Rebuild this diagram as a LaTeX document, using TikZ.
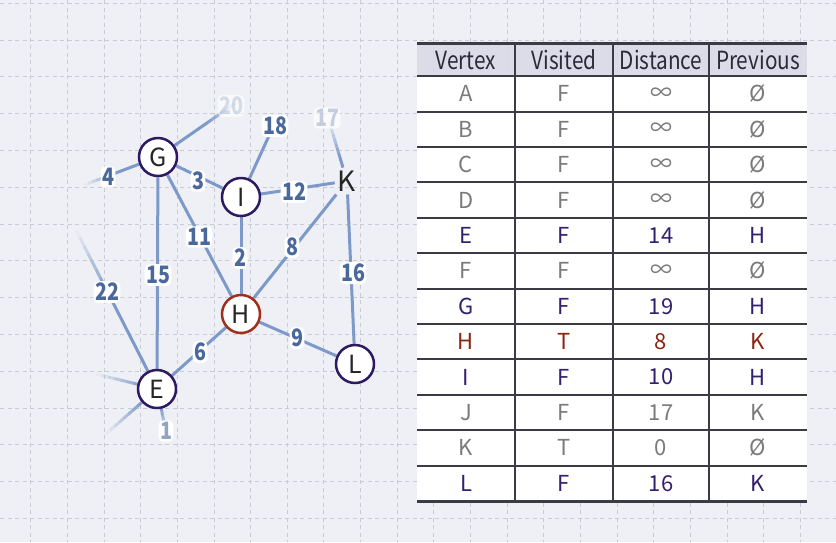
\documentclass[tikz,border=0pt]{standalone}
\usepackage{fontspec}
\usetikzlibrary{calc}
\setmainfont{Noto Sans}
\newfontfamily\tblfont{Noto Sans CJK KR}
\newfontfamily\hdrfont[FakeStretch=0.83]{Noto Sans CJK KR}
\newfontfamily\lblfont[FakeStretch=0.82]{Noto Sans CJK KR}
\newcommand\infs{∞}
\newcommand\emps{Ø}
\definecolor{bgc}{HTML}{EFF0F5}
\definecolor{gridc}{HTML}{C9CBD3}
\definecolor{edgec}{HTML}{7C99C9}
\definecolor{lblc}{HTML}{4B689B}
\definecolor{vborder}{HTML}{2E1A63}
\definecolor{hborder}{HTML}{A0301C}
\definecolor{tline}{HTML}{3B3B45}
\definecolor{hdrfill}{HTML}{D9DAE6}
\definecolor{tgray}{HTML}{7B7B7B}
\definecolor{tpurple}{HTML}{33206E}
\definecolor{tred}{HTML}{8B2512}
\definecolor{hdrtext}{HTML}{2A2A3A}
\pgfdeclarelayer{bgl}
\pgfdeclarelayer{edgel}
\pgfsetlayers{bgl,edgel,main}
\tikzset{
  gridline/.style={gridc, line width=0.9pt, dash pattern=on 4pt off 3.5pt},
  edge/.style={edgec, line width=3pt},
  vtx/.style={circle, minimum size=38pt, inner sep=0pt, draw=vborder, line width=2.5pt, fill=white, text=black!85, font=\tblfont\fontsize{25}{27}\selectfont},
  hot/.style={draw=hborder},
  letter/.style={inner sep=3pt, text=black!85, font=\tblfont\fontsize{28}{30}\selectfont},
  elab/.style={inner xsep=1.5pt, inner ysep=2pt, fill=white, rounded corners=5pt, text=lblc, font=\lblfont\bfseries\fontsize{24}{26}\selectfont},
  cell/.style={inner sep=0pt, font=\tblfont\fontsize{22}{24}\selectfont},
  hcell/.style={inner sep=0pt, text=hdrtext, font=\hdrfont\fontsize{25}{27}\selectfont},
  rowline/.style={tline, line width=2pt},
  colline/.style={tline, line width=1.5pt},
}
\newcommand\fadeline[3]{%
  \draw[edge] (#1) -- ($(#1)!#3!(#2)$);
  \foreach \k in {0,...,7}{%
    \pgfmathsetmacro\fa{#3+(1-#3)*\k/8}%
    \pgfmathsetmacro\fb{#3+(1-#3)*(\k+1)/8}%
    \pgfmathsetmacro\fo{1-(\k+0.5)/8}%
    \draw[edge, draw opacity=\fo] ($(#1)!\fa!(#2)$) -- ($(#1)!\fb!(#2)$);
  }%
}
\begin{document}
\begin{tikzpicture}[x=1pt,y=-1pt]
\useasboundingbox (0,0) rectangle (836,542);
\begin{pgfonlayer}{bgl}
\fill[bgc] (0,0) rectangle (836,542);
\foreach \i in {0,...,21} \draw[gridline] ({30.7+36.65*\i},0) -- ({30.7+36.65*\i},542);
\foreach \j in {0,...,14} \draw[gridline] (0,{3.3+36.8*\j}) -- (836,{3.3+36.8*\j});
\end{pgfonlayer}

% graph nodes
\node[vtx] (G) at (158,157) {G};
\node[vtx] (I) at (241,197) {I};
\node[letter] (K) at (347,181) {K};
\node[vtx,hot] (H) at (241,314) {H};
\node[vtx] (L) at (355,364) {L};
\node[vtx] (E) at (157,389) {E};

\coordinate (g20) at (240,100);
\coordinate (g4) at (84,185);
\coordinate (i18) at (273,127);
\coordinate (k17) at (329,121);
\coordinate (e22) at (76,230);
\coordinate (eW) at (96,374);
\coordinate (eSW) at (106,434);
\coordinate (eS) at (167,436);

\begin{pgfonlayer}{edgel}
\draw[edge] (G) -- (E);
\draw[edge] (G) -- (I);
\draw[edge] (G) -- (H);
\draw[edge] (I) -- (K);
\draw[edge] (I) -- (H);
\draw[edge] (K) -- (H);
\draw[edge] (K) -- (L);
\draw[edge] (H) -- (L);
\draw[edge] (H) -- (E);
\draw[edge] (I) -- (i18);
\fadeline{G}{g20}{0.6}
\fadeline{G}{g4}{0.55}
\fadeline{K}{k17}{0.4}
\fadeline{E}{e22}{0.6}
\fadeline{E}{eW}{0.2}
\fadeline{E}{eSW}{0.3}
\fadeline{E}{eS}{0.4}
\end{pgfonlayer}

% edge labels
\node[elab] (l15) at (158,275) {15};
\node[elab] (l3) at (198,181) {3};
\node[elab] (l11) at (199,237) {11};
\node[elab] (l4) at (108,177) {4};
\node[elab] (l12) at (294,192) {12};
\node[elab] (l18) at (275,126) {18};
\node[elab] (l2) at (240,258) {2};
\node[elab] (l8) at (292,247) {8};
\node[elab] (l16) at (353,273) {16};
\node[elab] (l9) at (297,338) {9};
\node[elab] (l6) at (200,352) {6};
\node[elab] (l22) at (107,292) {22};
\node[elab, text opacity=0.2, fill opacity=0.6] (l20) at (231,106) {20};
\node[elab, text opacity=0.3, fill opacity=0.7] (l17) at (327,118) {17};
\node[elab, text opacity=0.6] (l1) at (166,431) {1};

% table
\fill[hdrfill, opacity=0.9] (417,43) rectangle (807,76);
\fill[white] (417,76) rectangle (807,500.8);
\node[hcell] (h1) at (466,60) {Vertex};
\node[hcell] (h2) at (564,60) {Visited};
\node[hcell] (h3) at (661,60) {Distance};
\node[hcell] (h4) at (758,60) {Previous};
\foreach \v/\vis/\d/\p/\c [count=\r from 0] in {
  A/F/\infs/\emps/tgray, B/F/\infs/\emps/tgray, C/F/\infs/\emps/tgray,
  D/F/\infs/\emps/tgray, E/F/14/H/tpurple, F/F/\infs/\emps/tgray,
  G/F/19/H/tpurple, H/T/8/K/tred, I/F/10/H/tpurple, J/F/17/K/tgray,
  K/T/0/\emps/tgray, L/F/16/K/tpurple}{
  \pgfmathsetmacro\yy{93.9+35.4*\r}
  \node[cell, text=\c] (cv\r) at (466,\yy) {\v};
  \node[cell, text=\c] (cs\r) at (564,\yy) {\vis};
  \node[cell, text=\c] (cd\r) at (661,\yy) {\d};
  \node[cell, text=\c] (cp\r) at (758,\yy) {\p};
}
\draw[tline, line width=3pt] (417,43) -- (807,43);
\foreach \r in {0,...,11} \draw[rowline] (417,{76.2+35.4*\r}) -- (807,{76.2+35.4*\r});
\draw[tline, line width=3pt] (417,501) -- (807,501);
\foreach \x in {515,613,709} \draw[colline] (\x,43) -- (\x,501);
\end{tikzpicture}
\end{document}
